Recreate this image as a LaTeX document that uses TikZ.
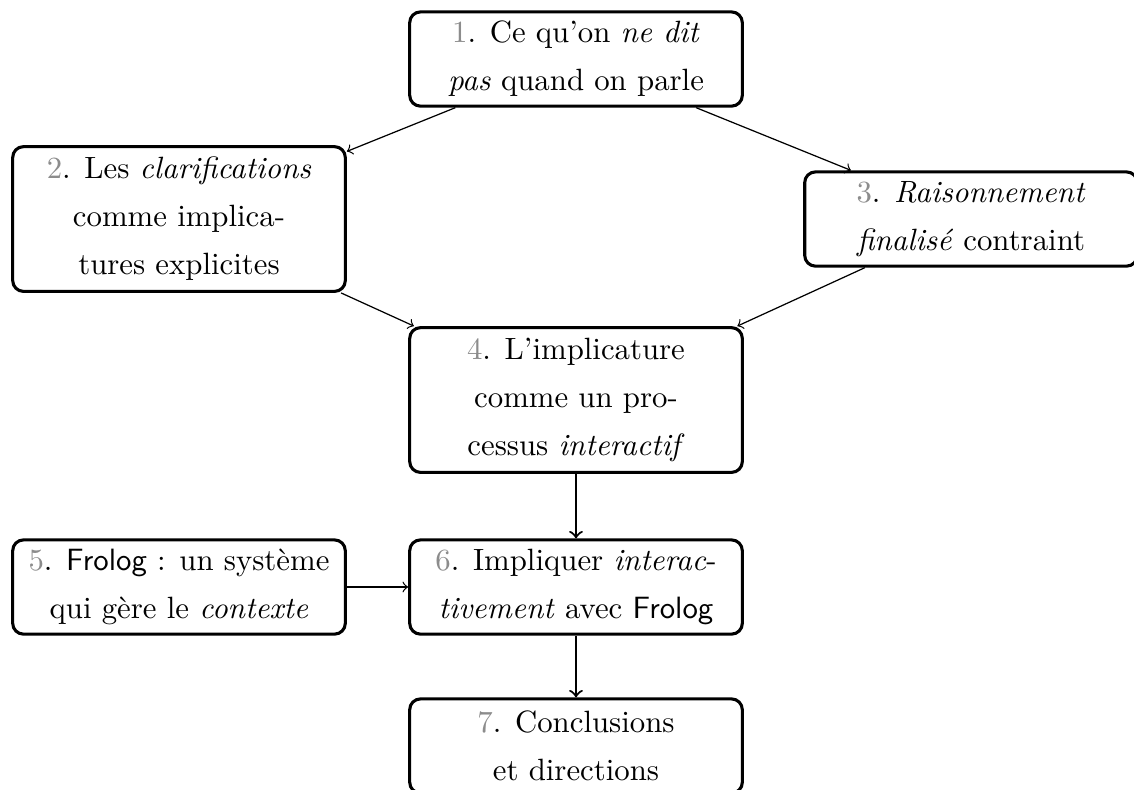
\documentclass[tikz,border=0pt]{standalone}
\usetikzlibrary{arrows}
\definecolor{numgray}{gray}{0.55}
\newcommand{\nb}[1]{\textcolor{numgray}{#1}}
\begin{document}
\begin{tikzpicture}[x=0.3247pt,y=-0.3247pt,
  box/.style={draw, line width=1pt, rounded corners=3.5pt, align=center,
    minimum width=108pt, font=\fontsize{10}{15.6}\selectfont, inner sep=2pt},
  twoline/.style={box, minimum height=30.6pt},
  threeline/.style={box, minimum height=47pt},
  thinarrow/.style={->, line width=0.4pt},
  thickarrow/.style={->, line width=0.7pt}]
\useasboundingbox (0,0) rectangle (1134,789);
\node[twoline]   (n1) at (576,59)  {\nb{1}. Ce qu'on \emph{ne dit}\\ \emph{pas} quand on parle};
\node[threeline] (n2) at (179,219) {\nb{2}. Les \emph{clarifications}\\ comme implica-\\ tures explicites};
\node[twoline]   (n3) at (971,219) {\nb{3}. \emph{Raisonnement}\\ \emph{finalisé} contraint};
\node[threeline] (n4) at (576,400) {\nb{4}. L'implicature\\ comme un pro-\\ cessus \emph{interactif}};
\node[twoline]   (n5) at (179,587) {\nb{5}. \textsf{Frolog} : un système\\ qui gère le \emph{contexte}};
\node[twoline]   (n6) at (576,587) {\nb{6}. Impliquer \emph{interac}-\\ \emph{tivement} avec \textsf{Frolog}};
\node[twoline]   (n7) at (576,746) {\nb{7}. Conclusions\\ et directions};
\draw[thinarrow] (n1) -- (n2);
\draw[thinarrow] (n1) -- (n3);
\draw[thinarrow] (n2) -- (n4);
\draw[thinarrow] (n3) -- (n4);
\draw[thickarrow] (n4) -- (n6);
\draw[thinarrow] (n5) -- (n6);
\draw[thickarrow] (n6) -- (n7);
\end{tikzpicture}
\end{document}
